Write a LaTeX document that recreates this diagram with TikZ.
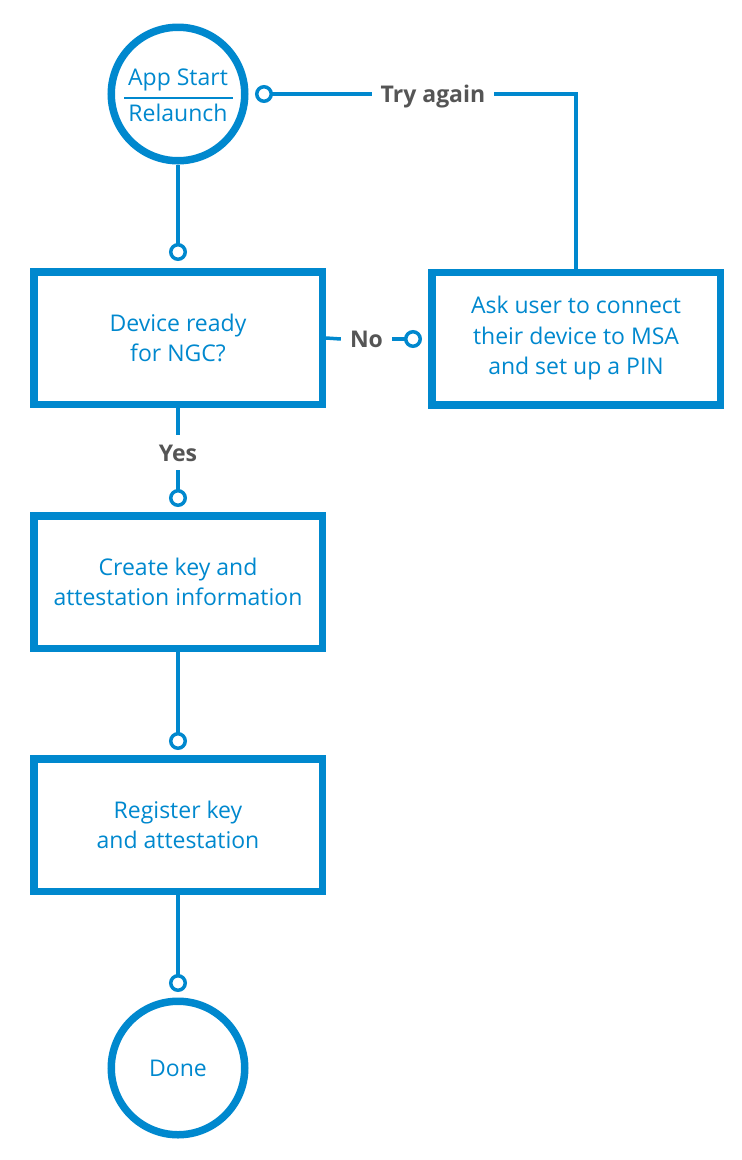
\documentclass[tikz,border=0pt]{standalone}
\usepackage{fontspec}
\setmainfont{Open Sans}
\definecolor{msblue}{HTML}{0088CE}
\definecolor{lblgray}{HTML}{555555}
\begin{document}
\begin{tikzpicture}[x=1pt,y=1pt,
  txt/.style={font=\fontsize{23}{30.5}\selectfont, text=msblue, align=center},
  procbox/.style={txt, draw=msblue, line width=7.5pt, minimum width=288.5pt, minimum height=132.5pt, inner sep=0pt},
  termcirc/.style={txt, circle, draw=msblue, line width=7.5pt, minimum size=133.5pt, inner sep=0pt},
  conn/.style={draw=msblue, line width=3.5pt},
  dotmark/.style={circle, draw=msblue, fill=white, line width=3.5pt, minimum size=14.5pt, inner sep=0pt},
  lbl/.style={font=\fontsize{23}{28}\selectfont\bfseries, text=lblgray, text height=17pt, text depth=0pt, inner xsep=9pt, inner ysep=9pt}
]
\useasboundingbox (0,0) rectangle (742,-1160);

% terminals and boxes
\node[termcirc] (start) at (178,-94) {};
\node[txt, anchor=base] (apptxt) at (178,-85) {App Start};
\node[txt, anchor=base] (reltxt) at (178,-121) {Relaunch};
\draw[msblue, line width=2pt] (124,-98) -- (233,-98);

\node[procbox] (ready) at (178,-338) {Device ready\\for NGC?};
\node[procbox] (ask) at (576,-338.5) {Ask user to connect\\their device to MSA\\and set up a PIN};
\node[procbox] (create) at (178,-582) {Create key and\\attestation information};
\node[procbox] (reg) at (178,-825) {Register key\\and attestation};
\node[termcirc] (done) at (178,-1068) {Done};

% labels
\node[lbl] (try) at (433,-94) {Try again};
\node[lbl] (no) at (366.5,-339) {No};
\node[lbl] (yes) at (178,-452.5) {Yes};

% marker coordinates
\coordinate (m1) at (178,-252);
\coordinate (m2) at (264,-94);
\coordinate (m3) at (413,-339);
\coordinate (m4) at (178,-498);
\coordinate (m5) at (178,-741);
\coordinate (m6) at (178,-983);

% connectors
\draw[conn] (start.south) -- (m1);
\draw[conn] (m2) -- (try.west);
\draw[conn] (try.east) -| (ask.north);
\draw[conn] (ready.east) -- (no.west);
\draw[conn] (no.east) -- (m3);
\draw[conn] (ready.south) -- (yes.north);
\draw[conn] (yes.south) -- (m4);
\draw[conn] (create.south) -- (m5);
\draw[conn] (reg.south) -- (m6);

% markers
\node[dotmark] (d1) at (m1) {};
\node[dotmark] (d2) at (m2) {};
\node[dotmark] (d3) at (m3) {};
\node[dotmark] (d4) at (m4) {};
\node[dotmark] (d5) at (m5) {};
\node[dotmark] (d6) at (m6) {};
\end{tikzpicture}
\end{document}
